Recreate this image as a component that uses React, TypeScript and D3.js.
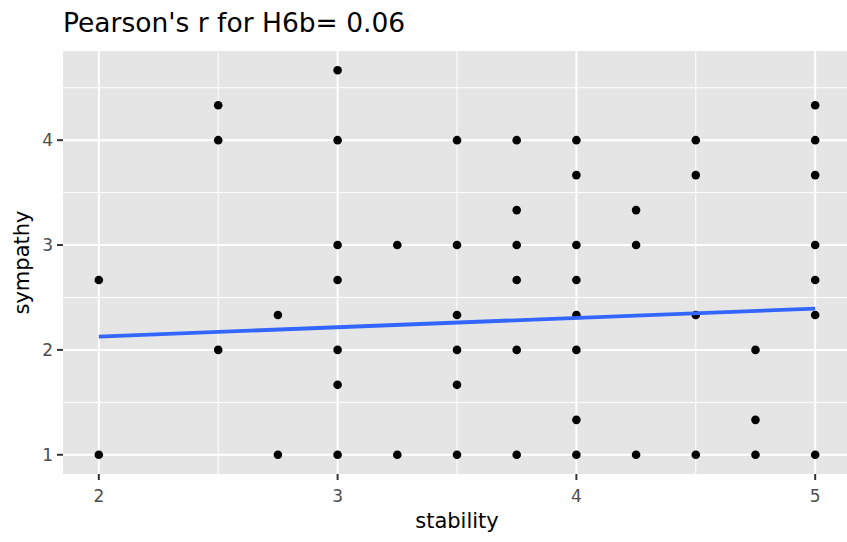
import React from "react";
import * as d3 from "d3";

const stability = [
    2, 2,
    2.5, 2.5, 2.5,
    2.75, 2.75,
    3, 3, 3, 3, 3, 3, 3,
    3.25, 3.25,
    3.5, 3.5, 3.5, 3.5, 3.5, 3.5,
    3.75, 3.75, 3.75, 3.75, 3.75, 3.75,
    4, 4, 4, 4, 4, 4, 4, 4,
    4.25, 4.25, 4.25,
    4.5, 4.5, 4.5, 4.5,
    4.75, 4.75, 4.75,
    5, 5, 5, 5, 5, 5, 5,
];
const sympathy = [
    2.667, 1,
    4.333, 4, 2,
    2.333, 1,
    4.667, 4, 3, 2.667, 2, 1.667, 1,
    3, 1,
    4, 3, 2.333, 2, 1.667, 1,
    4, 3.333, 3, 2.667, 2, 1,
    4, 3.667, 3, 2.667, 2.333, 2, 1.333, 1,
    3.333, 3, 1,
    4, 3.667, 2.333, 1,
    2, 1.333, 1,
    4.333, 4, 3.667, 3, 2.667, 2.333, 1,
];

// fitted lm line end points (x = 2 and x = 5)
const fitX = [2, 5];
const fitY = [2.127, 2.394];

const xTicks = [2, 3, 4, 5];
const xMinor = [2.5, 3.5, 4.5];
const yTicks = [1, 2, 3, 4];
const yMinor = [1.5, 2.5, 3.5, 4.5];

const title = "Pearson's r for H6b= 0.06";

const W = 847;
const H = 542;
const panel = { left: 63, top: 51, right: 851, bottom: 474 };

export default function App() {
    const xExt = d3.extent(stability) as [number, number];
    const yExt = d3.extent(sympathy) as [number, number];
    const xPad = (xExt[1] - xExt[0]) * 0.05;
    const yPad = (yExt[1] - yExt[0]) * 0.05;

    const x = d3.scaleLinear()
        .domain([xExt[0] - xPad, xExt[1] + xPad])
        .range([panel.left, panel.right]);
    const y = d3.scaleLinear()
        .domain([yExt[0] - yPad, yExt[1] + yPad])
        .range([panel.bottom, panel.top]);

    const line = d3.line<number>()
        .x((d) => x(d))
        .y((_d, i) => y(fitY[i]));

    const font = "'DejaVu Sans', 'Liberation Sans', Arial, sans-serif";
    const pw = panel.right - panel.left;
    const ph = panel.bottom - panel.top;

    return (
        <svg width={W} height={H} style={{ position: "absolute", left: 0, top: 0 }} fontFamily={font}>
            <rect width={W} height={H} fill="#ffffff" />
            <text x={panel.left} y={32} fontSize={26.5} fill="#000000">{title}</text>

            <rect x={panel.left} y={panel.top} width={pw} height={ph} fill="#E5E5E5" />
            {xMinor.map((t) => (
                <line key={"xm" + t} x1={x(t)} x2={x(t)} y1={panel.top} y2={panel.bottom} stroke="#fff" strokeWidth={1} />
            ))}
            {yMinor.map((t) => (
                <line key={"ym" + t} x1={panel.left} x2={panel.right} y1={y(t)} y2={y(t)} stroke="#fff" strokeWidth={1} />
            ))}
            {xTicks.map((t) => (
                <line key={"xg" + t} x1={x(t)} x2={x(t)} y1={panel.top} y2={panel.bottom} stroke="#fff" strokeWidth={2} />
            ))}
            {yTicks.map((t) => (
                <line key={"yg" + t} x1={panel.left} x2={panel.right} y1={y(t)} y2={y(t)} stroke="#fff" strokeWidth={2} />
            ))}

            {stability.map((s, i) => (
                <circle key={i} cx={x(s)} cy={y(sympathy[i])} r={4.3} fill="#000000" />
            ))}

            <path d={line(fitX) ?? ""} fill="none" stroke="#3366FF" strokeWidth={3.8} />

            {/* x axis */}
            {xTicks.map((t) => (
                <g key={"xt" + t}>
                    <line x1={x(t)} x2={x(t)} y1={panel.bottom} y2={panel.bottom + 6} stroke="#333333" strokeWidth={2} />
                    <text x={x(t)} y={502} fontSize={17} fill="#4D4D4D" textAnchor="middle">{t}</text>
                </g>
            ))}
            {/* y axis */}
            {yTicks.map((t) => (
                <g key={"yt" + t}>
                    <line x1={panel.left - 6} x2={panel.left} y1={y(t)} y2={y(t)} stroke="#333333" strokeWidth={2} />
                    <text x={panel.left - 10} y={y(t)} dy="0.36em" fontSize={17} fill="#4D4D4D" textAnchor="end">{t}</text>
                </g>
            ))}

            <text x={(panel.left + panel.right) / 2} y={528} fontSize={21} fill="#000000" textAnchor="middle">stability</text>
            <text transform={`translate(29,${(panel.top + panel.bottom) / 2}) rotate(-90)`} fontSize={21} fill="#000000" textAnchor="middle">sympathy</text>
        </svg>
    );
}
